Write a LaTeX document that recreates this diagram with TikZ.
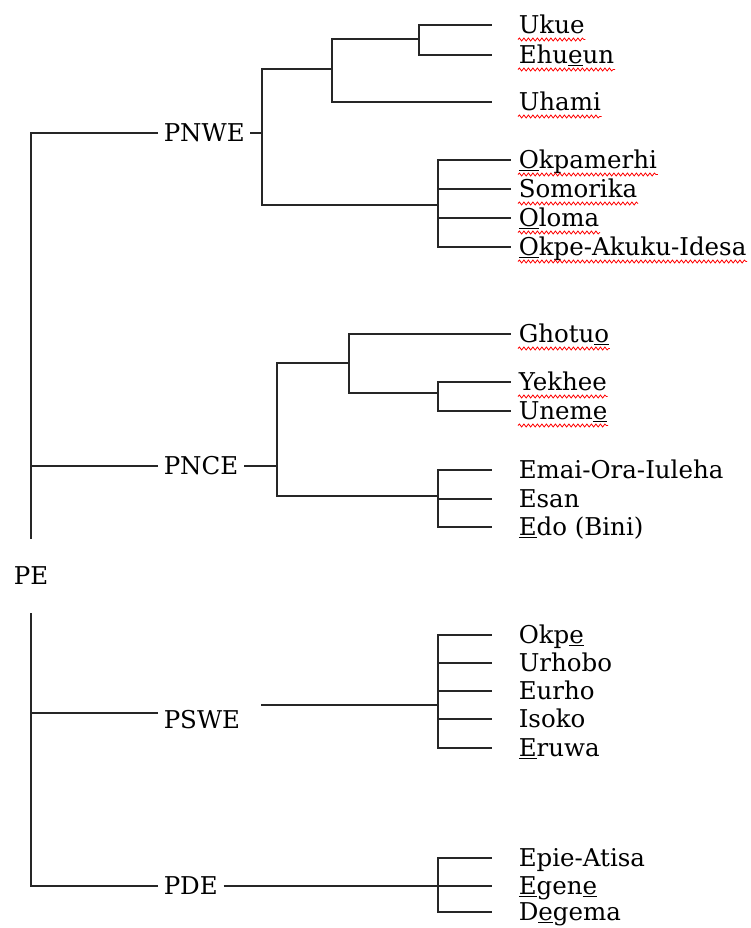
\documentclass[tikz,border=0pt]{standalone}
\usepackage{fontspec}
\setmainfont{DejaVu Serif}
\usepackage{tikz}
\usetikzlibrary{decorations.pathmorphing}
\tikzset{branch/.style={anchor=west,inner xsep=5pt,inner ysep=0pt,text height=17pt,text depth=0pt,font=\fontsize{24.5}{26}\selectfont}}
\tikzset{lang/.style={anchor=west,inner sep=0pt,text height=17pt,text depth=0pt,font=\fontsize{24.5}{26}\selectfont}}
\tikzset{longgap/.style={shorten >=26pt},shortgap/.style={shorten >=7pt}}
\tikzset{spellmark/.style={red,line width=0.8pt,decorate,decoration={snake,amplitude=1.5pt,segment length=4.5pt}}}

\begin{document}
\begin{tikzpicture}[x=1pt,y=-1pt,line width=1.5pt,draw=black!85]
\useasboundingbox (0,0) rectangle (751,928);

\node[branch,anchor=center,minimum height=72pt] (pe) at (31,576) {PE};
\node[branch] (pnwe) at (158,133) {PNWE};
\node[branch] (pnce) at (158,466) {PNCE};
\node[branch] (pswe) at (158,720) {PSWE};
\node[branch] (pde) at (158,886) {PDE};

\coordinate (n1) at (262,133);
\coordinate (n2) at (332,69);
\coordinate (n3) at (438,205);
\coordinate (n4) at (419,39);
\coordinate (m1) at (277,466);
\coordinate (m2) at (349,363);
\coordinate (m3) at (438,496);
\coordinate (m4) at (438,393);
\coordinate (s1) at (261,705);
\coordinate (s2) at (438,705);
\coordinate (d1) at (438,886);

\node[lang] (ukue) at (518,25) {Ukue};
\node[lang] (ehueun) at (518,55) {Ehu\underline{e}un};
\node[lang] (uhami) at (518,102) {Uhami};
\node[lang] (okpamerhi) at (518,160) {\underline{O}kpamerhi};
\node[lang] (somorika) at (518,189) {Somorika};
\node[lang] (oloma) at (518,218) {\underline{O}loma};
\node[lang] (okpeakuku) at (518,247) {\underline{O}kpe-Akuku-Idesa};
\node[lang] (ghotuo) at (518,334) {Ghotu\underline{o}};
\node[lang] (yekhee) at (518,382) {Yekhee};
\node[lang] (uneme) at (518,411) {Unem\underline{e}};
\node[lang] (emai) at (518,470) {Emai-Ora-Iuleha};
\node[lang] (esan) at (518,499) {Esan};
\node[lang] (edo) at (518,527) {\underline{E}do (Bini)};
\node[lang] (okpe) at (518,635) {Okp\underline{e}};
\node[lang] (urhobo) at (518,663) {Urhobo};
\node[lang] (eurho) at (518,691) {Eurho};
\node[lang] (isoko) at (518,719) {Isoko};
\node[lang] (eruwa) at (518,748) {\underline{E}ruwa};
\node[lang] (epie) at (518,858) {Epie-Atisa};
\node[lang] (egene) at (518,886) {\underline{E}gen\underline{e}};
\node[lang] (degema) at (518,912) {D\underline{e}gema};

\draw (pnwe.west) -| (pe.north);
\draw (pde.west) -| (pe.south);
\draw (pnce.west) -- (pnce.west -| pe.center);
\draw ([yshift=7pt]pswe.west) -- ([yshift=7pt]pswe.west -| pe.center);

\draw (pnwe.east) -- (n1);
\draw (n1) |- (n2);
\draw (n1) |- (n3);
\draw (n2) |- (n4);
\draw[longgap] (n2) |- (uhami.west);
\draw[longgap] (n4) |- (ukue.west);
\draw[longgap] (n4) |- (ehueun.west);
\draw[shortgap] (n3) |- (okpamerhi.west);
\draw[shortgap] (n3) |- (somorika.west);
\draw[shortgap] (n3) |- (oloma.west);
\draw[shortgap] (n3) |- (okpeakuku.west);

\draw (pnce.east) -- (m1);
\draw (m1) |- (m2);
\draw (m1) |- (m3);
\draw[shortgap] (m2) |- (ghotuo.west);
\draw (m2) |- (m4);
\draw[shortgap] (m4) |- (yekhee.west);
\draw[shortgap] (m4) |- (uneme.west);
\draw[longgap] (m3) |- (emai.west);
\draw[longgap] (m3) |- (esan.west);
\draw[longgap] (m3) |- (edo.west);

\draw (s1) -- (s2);
\draw[longgap] (s2) |- (okpe.west);
\draw[longgap] (s2) |- (urhobo.west);
\draw[longgap] (s2) |- (eurho.west);
\draw[longgap] (s2) |- (isoko.west);
\draw[longgap] (s2) |- (eruwa.west);

\draw (pde.east) -- (d1);
\draw[longgap] (d1) |- (epie.west);
\draw[longgap] (d1) |- (egene.west);
\draw[longgap] (d1) |- (degema.west);

\foreach \w in {ukue,ehueun,uhami,okpamerhi,somorika,oloma,okpeakuku,ghotuo,yekhee,uneme}
  \draw[spellmark] ([yshift=-6pt]\w.base west) -- ([yshift=-6pt]\w.base east);
\end{tikzpicture}
\end{document}
